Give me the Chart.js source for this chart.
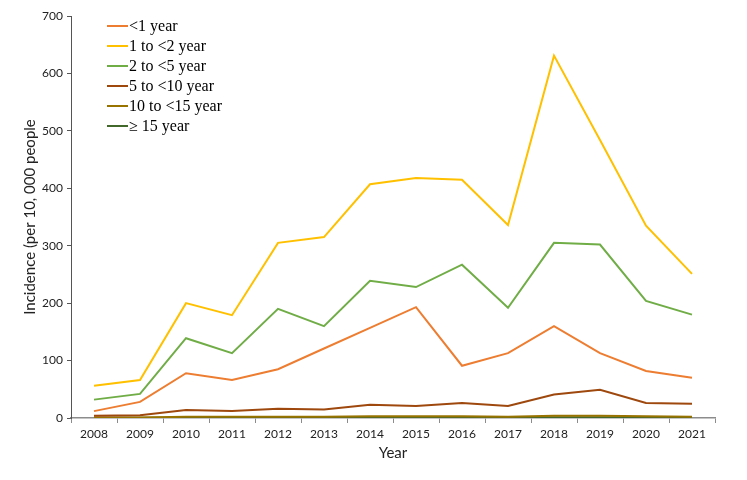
<!DOCTYPE html>
<html lang="en">
<head>
    <meta charset="UTF-8">
    <title>Incidence by age group</title>
    <script src="https://cdn.jsdelivr.net/npm/chart.js"></script>
    <style>
        body {
            margin: 0;
            background-color: #ffffff;
        }
        .wrap {
            width: 747px;
            height: 480px;
        }
    </style>
</head>
<body>
    <div class="wrap">
        <canvas id="myChart" width="747" height="480"></canvas>
    </div>

    <script>
        const years = ['2008', '2009', '2010', '2011', '2012', '2013', '2014', '2015', '2016', '2017', '2018', '2019', '2020', '2021'];

        const lt1 = [12, 28, 78, 66, 85, 121, 157, 193, 91, 113, 160, 113, 82, 70];
        const y1to2 = [56, 66, 200, 179, 305, 315, 407, 418, 415, 336, 631, 484, 335, 251];
        const y2to5 = [32, 42, 139, 113, 190, 160, 239, 228, 267, 192, 305, 302, 204, 180];
        const y5to10 = [4, 5, 14, 12, 16, 15, 23, 21, 26, 21, 41, 49, 26, 25];
        const y10to15 = [1, 1, 2, 2, 2, 2, 3, 3, 3, 2, 4, 4, 3, 2];
        const y15plus = [0.5, 0.5, 0.7, 0.7, 0.8, 0.8, 1, 1, 1, 0.8, 1.2, 1.2, 1, 0.8];

        const seriesNames = ['<1 year', '1 to <2 year', '2 to <5 year', '5 to <10 year', '10 to <15 year', '\u2265 15 year'];
        const colores = ['#ED7D31', '#FFC000', '#70AD47', '#9E480E', '#997300', '#43682B'];

        // leyenda dentro del area del grafico, como en el original
        const innerLegend = {
            id: 'innerLegend',
            afterDraw(chart) {
                const ctx = chart.ctx;
                ctx.save();
                ctx.font = '16px "Liberation Serif", "Times New Roman", serif';
                ctx.textBaseline = 'middle';
                chart.data.datasets.forEach(function(ds, i) {
                    const y = 26 + i * 20;
                    ctx.strokeStyle = ds.borderColor;
                    ctx.lineWidth = 2;
                    ctx.beginPath();
                    ctx.moveTo(107, y);
                    ctx.lineTo(128, y);
                    ctx.stroke();
                    ctx.fillStyle = '#000000';
                    ctx.fillText(ds.label, 129, y + 1);
                });
                ctx.restore();
            }
        };

        const allData = [lt1, y1to2, y2to5, y5to10, y10to15, y15plus];

        const ctx = document.getElementById('myChart').getContext('2d');
        const chart = new Chart(ctx, {
            type: 'line',
            data: {
                labels: years,
                datasets: allData.map(function(d, i) {
                    return {
                        label: seriesNames[i],
                        data: d,
                        borderColor: colores[i],
                        backgroundColor: colores[i],
                        borderWidth: 2,
                        pointRadius: 0,
                        tension: 0,
                        fill: false
                    };
                })
            },
            options: {
                responsive: false,
                animation: false,
                layout: {
                    padding: { top: 16, right: 32, left: 0, bottom: 0 }
                },
                plugins: {
                    legend: { display: false },
                    tooltip: { enabled: false }
                },
                scales: {
                    x: {
                        offset: true,
                        afterFit: function(scale) { scale.height = 62; },
                        grid: {
                            offset: true,
                            drawOnChartArea: false,
                            drawTicks: true,
                            tickLength: 5,
                            color: '#8c8c8c'
                        },
                        border: { display: true, color: '#8c8c8c', width: 1.5 },
                        ticks: {
                            color: '#222222',
                            font: { family: 'Lato, "Open Sans", sans-serif', size: 12 },
                            maxRotation: 0,
                            padding: 4
                        },
                        title: {
                            display: true,
                            text: 'Year',
                            color: '#222222',
                            font: { family: 'Lato, "Open Sans", sans-serif', size: 15 },
                            padding: { top: 4, bottom: 18 }
                        }
                    },
                    y: {
                        min: 0,
                        max: 700,
                        afterFit: function(scale) { scale.width = 71; },
                        grid: {
                            drawOnChartArea: false,
                            drawTicks: true,
                            tickLength: 4,
                            color: '#555555'
                        },
                        border: { display: true, color: '#555555', width: 1 },
                        ticks: {
                            stepSize: 100,
                            color: '#222222',
                            font: { family: 'Lato, "Open Sans", sans-serif', size: 12 },
                            padding: 4
                        },
                        title: {
                            display: true,
                            text: 'Incidence (per 10, 000 people',
                            color: '#222222',
                            font: { family: 'Lato, "Open Sans", sans-serif', size: 15 },
                            padding: { top: 21, bottom: 0 }
                        }
                    }
                }
            },
            plugins: [innerLegend]
        });
    </script>
</body>
</html>
